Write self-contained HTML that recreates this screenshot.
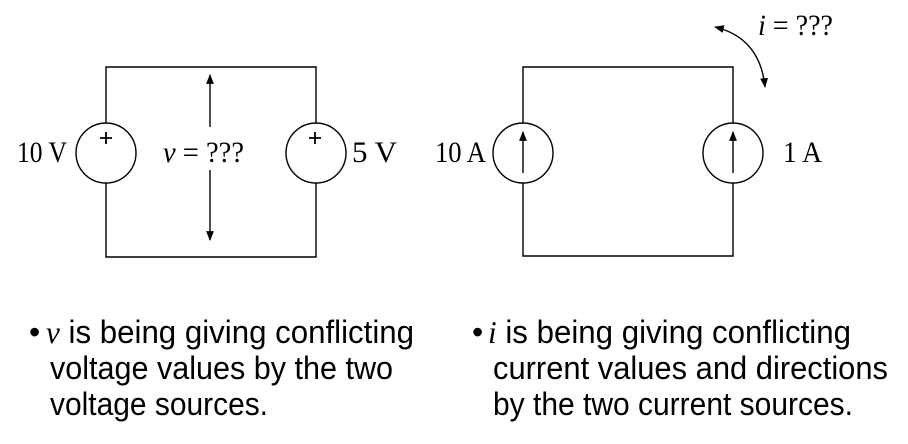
<!DOCTYPE html>
<html><head><meta charset="utf-8"><style>
body{margin:0;width:908px;height:444px;background:#fff;overflow:hidden}
svg{position:absolute;left:0;top:0}
.s{font-family:"Liberation Serif",serif;fill:#000}
.b{font-family:"Liberation Sans",sans-serif;font-size:32px;fill:#000}
</style></head><body>
<svg width="908" height="444">
<defs><marker id="ah" viewBox="0 0 10 10" refX="9" refY="5" markerWidth="7" markerHeight="7" orient="auto-start-reverse"><path d="M0,1 L10,5 L0,9 Z" fill="#000"/></marker></defs>
<g stroke="#000" stroke-width="1.4" fill="none">
<path d="M106,123 V67 H316 V123 M106,183 V257 H316 V183"/>
<ellipse cx="106" cy="153" rx="30" ry="30"/>
<ellipse cx="316" cy="153" rx="30" ry="30"/>
<line x1="210" y1="127" x2="210" y2="75" marker-end="url(#ah)"/>
<line x1="210" y1="170" x2="210" y2="240" marker-end="url(#ah)"/>
<path d="M100,138 H112 M106,132 V144 M309,138 H321 M315,132 V144" stroke-width="1.8"/>
</g>
<g class="s" font-size="30">
<text x="17" y="162" textLength="50" lengthAdjust="spacingAndGlyphs">10 V</text>
<text x="352" y="162" textLength="45" lengthAdjust="spacingAndGlyphs">5 V</text>
<text x="163" y="162" textLength="81" lengthAdjust="spacingAndGlyphs"><tspan font-style="italic">v</tspan> = ???</text>
<text x="435" y="162" textLength="51" lengthAdjust="spacingAndGlyphs">10 A</text>
<text x="783" y="162" textLength="39" lengthAdjust="spacingAndGlyphs">1 A</text>
<text x="758" y="35" textLength="75" lengthAdjust="spacingAndGlyphs"><tspan font-style="italic">i</tspan> = ???</text>
</g>
<g stroke="#000" stroke-width="1.4" fill="none">
<path d="M523,123 V67 H733 V123 M523,183 V256 H733 V183"/>
<ellipse cx="523" cy="153" rx="30" ry="30"/>
<ellipse cx="733" cy="153" rx="30" ry="30"/>
<line x1="523" y1="173" x2="523" y2="132" marker-end="url(#ah)"/>
<line x1="733" y1="173" x2="733" y2="132" marker-end="url(#ah)"/>
<path d="M715,27 Q760,38 765,87" marker-end="url(#ah)" marker-start="url(#ah)"/>
</g>
<g class="b">
<text x="29" y="343">•</text>
<text x="46" y="343" textLength="368" lengthAdjust="spacingAndGlyphs"><tspan font-family="Liberation Serif,serif" font-style="italic">v</tspan> is being giving conflicting</text>
<text x="50" y="379" textLength="343" lengthAdjust="spacingAndGlyphs">voltage values by the two</text>
<text x="50" y="415" textLength="218" lengthAdjust="spacingAndGlyphs">voltage sources.</text>
</g>
<g class="b">
<text x="472" y="343">•</text>
<text x="488" y="343" textLength="363" lengthAdjust="spacingAndGlyphs"><tspan font-family="Liberation Serif,serif" font-style="italic">i</tspan> is being giving conflicting</text>
<text x="493" y="379" textLength="395" lengthAdjust="spacingAndGlyphs">current values and directions</text>
<text x="493" y="415" textLength="360" lengthAdjust="spacingAndGlyphs">by the two current sources.</text>
</g>
</svg>
</body></html>
